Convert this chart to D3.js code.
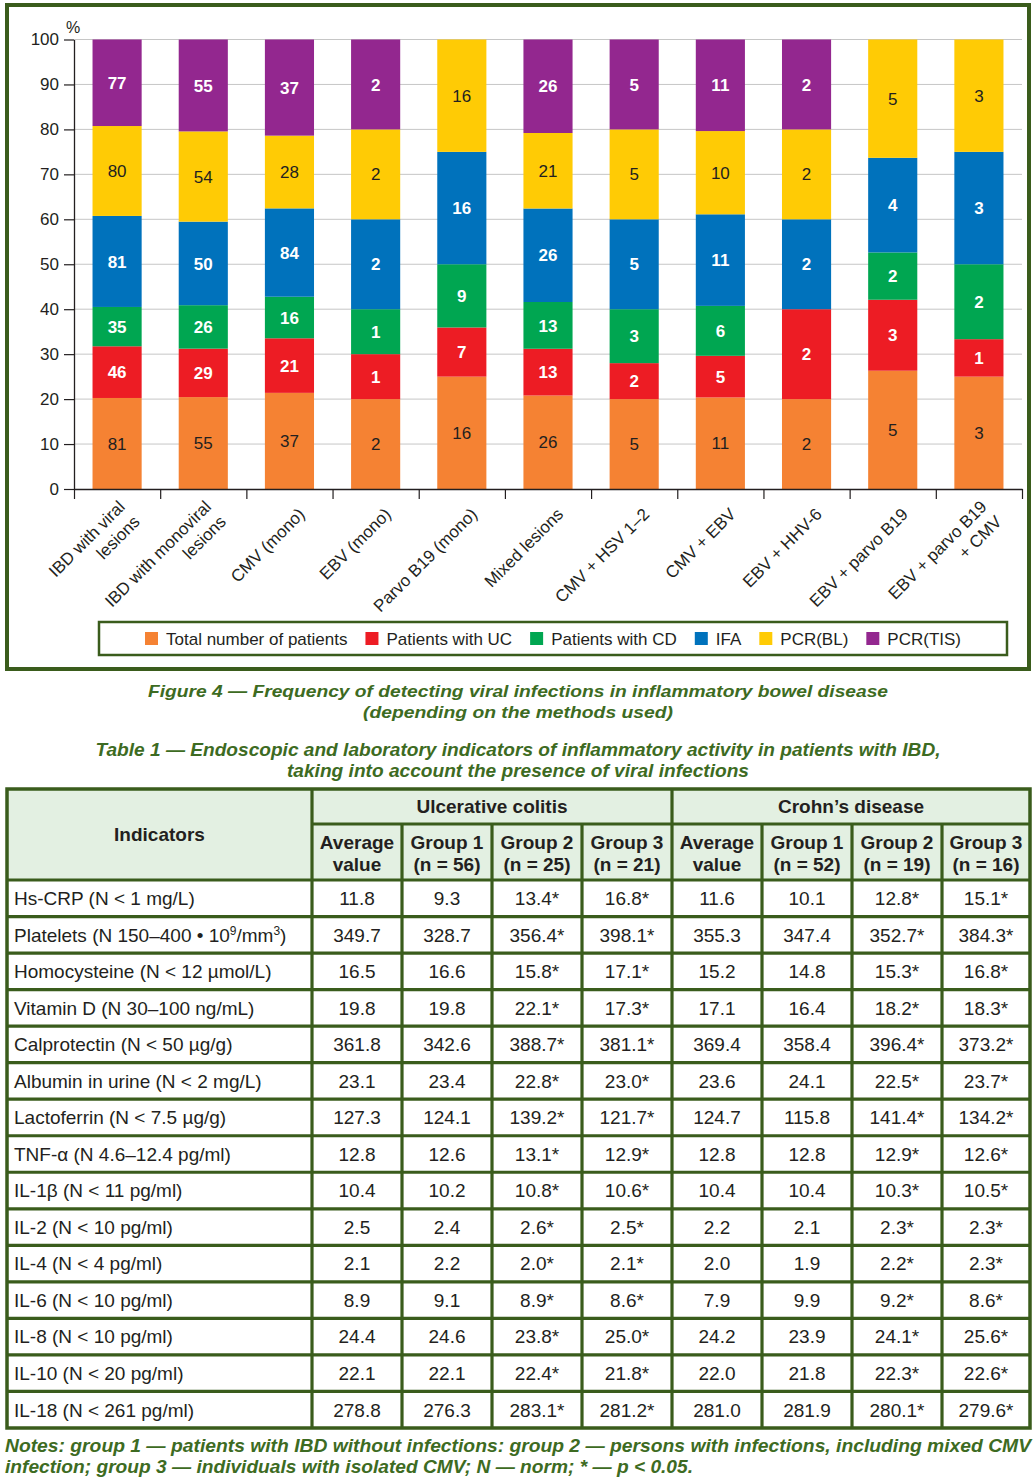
<!DOCTYPE html>
<html>
<head>
<meta charset="utf-8">
<script src="https://cdn.jsdelivr.net/npm/d3@7"></script>
<style>
  body { margin: 0; background: #fff; }
  svg { display: block; font-family: "Liberation Sans", Arial, sans-serif; }
</style>
</head>
<body>
<svg id="page" width="1035" height="1481"></svg>
<script>
// ---- Figure 4 data (patient counts per method, bars are normalised to 100%) ----
const categories = [
  ["IBD with viral", "lesions"],
  ["IBD with monoviral", "lesions"],
  ["CMV (mono)"],
  ["EBV (mono)"],
  ["Parvo B19 (mono)"],
  ["Mixed lesions"],
  ["CMV + HSV 1–2"],
  ["CMV + EBV"],
  ["EBV + HHV-6"],
  ["EBV + parvo B19"],
  ["EBV + parvo B19", "+ CMV"]
];
const totalPatients = [81, 55, 37, 2, 16, 26, 5, 11, 2, 5, 3];
const patientsUC    = [46, 29, 21, 1, 7, 13, 2, 5, 2, 3, 1];
const patientsCD    = [35, 26, 16, 1, 9, 13, 3, 6, 0, 2, 2];
const ifa           = [81, 50, 34, 2, 16, 26, 5, 11, 2, 4, 3];
const pcrBL         = [80, 54, 28, 2, 16, 21, 5, 10, 2, 5, 3];
const pcrTIS        = [77, 55, 37, 2, 0, 26, 5, 11, 2, 0, 0];
// the printed label on CMV (mono) IFA says 84, the segment is drawn for 34
const ifaPrinted    = [81, 50, 84, 2, 16, 26, 5, 11, 2, 4, 3];
const yTicks = [0, 10, 20, 30, 40, 50, 60, 70, 80, 90, 100];

const seriesNames = ["Total number of patients", "Patients with UC", "Patients with CD", "IFA", "PCR(BL)", "PCR(TIS)"];
const seriesValues = [totalPatients, patientsUC, patientsCD, ifa, pcrBL, pcrTIS];
const seriesLabels = [totalPatients, patientsUC, patientsCD, ifaPrinted, pcrBL, pcrTIS];
const seriesColors = ["#f58233", "#ed1c24", "#00a651", "#0072bc", "#ffcb05", "#93278f"];
const labelDark = [true, false, false, false, true, false];

// ---- Table 1 data ----
const indicators = [
  "Hs-CRP (N < 1 mg/L)",
  "Platelets (N 150–400 • 10^9/mm^3)",
  "Homocysteine (N < 12 µmol/L)",
  "Vitamin D (N 30–100 ng/mL)",
  "Calprotectin (N < 50 µg/g)",
  "Albumin in urine (N < 2 mg/L)",
  "Lactoferrin (N < 7.5 µg/g)",
  "TNF-α (N 4.6–12.4 pg/ml)",
  "IL-1β (N < 11 pg/ml)",
  "IL-2 (N < 10 pg/ml)",
  "IL-4 (N < 4 pg/ml)",
  "IL-6 (N < 10 pg/ml)",
  "IL-8 (N < 10 pg/ml)",
  "IL-10 (N < 20 pg/ml)",
  "IL-18 (N < 261 pg/ml)"
];
const ucAverage = [11.8, 349.7, 16.5, 19.8, 361.8, 23.1, 127.3, 12.8, 10.4, 2.5, 2.1, 8.9, 24.4, 22.1, 278.8];
const ucGroup1  = [9.3, 328.7, 16.6, 19.8, 342.6, 23.4, 124.1, 12.6, 10.2, 2.4, 2.2, 9.1, 24.6, 22.1, 276.3];
const ucGroup2  = [13.4, 356.4, 15.8, 22.1, 388.7, 22.8, 139.2, 13.1, 10.8, 2.6, 2.0, 8.9, 23.8, 22.4, 283.1];
const ucGroup3  = [16.8, 398.1, 17.1, 17.3, 381.1, 23.0, 121.7, 12.9, 10.6, 2.5, 2.1, 8.6, 25.0, 21.8, 281.2];
const cdAverage = [11.6, 355.3, 15.2, 17.1, 369.4, 23.6, 124.7, 12.8, 10.4, 2.2, 2.0, 7.9, 24.2, 22.0, 281.0];
const cdGroup1  = [10.1, 347.4, 14.8, 16.4, 358.4, 24.1, 115.8, 12.8, 10.4, 2.1, 1.9, 9.9, 23.9, 21.8, 281.9];
const cdGroup2  = [12.8, 352.7, 15.3, 18.2, 396.4, 22.5, 141.4, 12.9, 10.3, 2.3, 2.2, 9.2, 24.1, 22.3, 280.1];
const cdGroup3  = [15.1, 384.3, 16.8, 18.3, 373.2, 23.7, 134.2, 12.6, 10.5, 2.3, 2.3, 8.6, 25.6, 22.6, 279.6];
const groupHeaders = [
  ["Average", "value"], ["Group 1", "(n = 56)"], ["Group 2", "(n = 25)"], ["Group 3", "(n = 21)"],
  ["Average", "value"], ["Group 1", "(n = 52)"], ["Group 2", "(n = 19)"], ["Group 3", "(n = 16)"]
];
const columns = [ucAverage, ucGroup1, ucGroup2, ucGroup3, cdAverage, cdGroup1, cdGroup2, cdGroup3];
const significant = [false, false, true, true, false, false, true, true];

const frameGreen = "#3a5c1c";
const textGreen = "#3d6b22";
const ink = "#231f20";

const svg = d3.select("#page");
svg.append("rect").attr("width", 1035).attr("height", 1481).attr("fill", "#fff");

// ================= Figure 4 =================
svg.append("rect")
  .attr("x", 7).attr("y", 5).attr("width", 1022).attr("height", 664)
  .attr("fill", "none").attr("stroke", frameGreen).attr("stroke-width", 4);

const x = d3.scaleBand()
  .domain(d3.range(categories.length))
  .range([74, 1022])
  .paddingInner(0.43)
  .paddingOuter(0.215);
const xEdge = d3.scaleLinear().domain([0, categories.length]).range([74, 1022]);
const y = d3.scaleLinear().domain([0, 100]).range([489, 39.5]);

// gridlines
svg.append("g").selectAll("line")
  .data(yTicks.slice(1))
  .join("line")
  .attr("x1", 74).attr("x2", 1022)
  .attr("y1", d => y(d)).attr("y2", d => y(d))
  .attr("stroke", "#c6c6c6").attr("stroke-width", 1);

// stacked percentages
const keys = d3.range(seriesNames.length);
const rows = categories.map((c, i) => {
  const total = d3.sum(seriesValues, s => s[i]);
  const row = {};
  keys.forEach(k => { row[k] = seriesValues[k][i] / total * 100; });
  return row;
});
const stacked = d3.stack().keys(keys)(rows);

const layers = svg.append("g").selectAll("g")
  .data(stacked)
  .join("g")
  .attr("fill", d => seriesColors[d.key]);

layers.selectAll("rect")
  .data(d => d)
  .join("rect")
  .attr("x", (d, i) => x(i))
  .attr("width", x.bandwidth())
  .attr("y", d => y(d[1]))
  .attr("height", d => y(d[0]) - y(d[1]));

layers.selectAll("text")
  .data(d => d.map((v, i) => ({ v, i, key: d.key })).filter(o => seriesValues[o.key][o.i] > 0))
  .join("text")
  .attr("x", o => x(o.i) + x.bandwidth() / 2)
  .attr("y", o => (y(o.v[0]) + y(o.v[1])) / 2)
  .attr("dy", "0.36em")
  .attr("text-anchor", "middle")
  .attr("font-size", 17)
  .attr("font-weight", o => labelDark[o.key] ? "normal" : "bold")
  .attr("fill", o => labelDark[o.key] ? ink : "#fff")
  .text(o => seriesLabels[o.key][o.i]);

// y axis
const yAxis = svg.append("g")
  .attr("transform", "translate(74,0)")
  .call(d3.axisLeft(y).tickValues(yTicks).tickSize(10).tickSizeOuter(0).tickPadding(5));
yAxis.select(".domain").attr("stroke", ink).attr("stroke-width", 1.3);
yAxis.selectAll(".tick line").attr("stroke", ink).attr("stroke-width", 1.2);
yAxis.selectAll(".tick text").attr("font-size", 17).attr("font-family", null).attr("fill", ink);
svg.append("text").attr("x", 66).attr("y", 33).attr("font-size", 16).attr("fill", ink).text("%");

// x axis with ticks on band edges
const xAxis = svg.append("g")
  .attr("transform", "translate(0,489)")
  .call(d3.axisBottom(xEdge).tickValues(d3.range(categories.length + 1)).tickFormat("").tickSize(10).tickSizeOuter(0));
xAxis.select(".domain").attr("stroke", ink).attr("stroke-width", 1.3);
xAxis.selectAll(".tick line").attr("stroke", ink).attr("stroke-width", 1.2);

const xLabels = svg.append("g").selectAll("text")
  .data(categories)
  .join("text")
  .attr("transform", (d, i) => `translate(${x(i) + x.bandwidth() / 2 + 12},511) rotate(-45)`)
  .attr("text-anchor", "end")
  .attr("font-size", 17)
  .attr("fill", ink);
xLabels.each(function (lines) {
  const t = d3.select(this);
  lines.forEach((line, j) => {
    const first = lines.length === 1 ? 0.36 : 0.36 - 0.62;
    t.append("tspan").attr("x", 0).attr("dy", (j === 0 ? first : 1.24) + "em").text(line);
  });
});

// legend
svg.append("rect")
  .attr("x", 99).attr("y", 622).attr("width", 908).attr("height", 33)
  .attr("fill", "none").attr("stroke", frameGreen).attr("stroke-width", 2.5);
const legend = svg.append("g");
let lx = 0;
seriesNames.forEach((name, k) => {
  const item = legend.append("g").attr("transform", `translate(${lx},0)`);
  item.append("rect").attr("x", 0).attr("y", 632).attr("width", 13).attr("height", 13).attr("fill", seriesColors[k]);
  const txt = item.append("text").attr("x", 21).attr("y", 645).attr("font-size", 17).attr("fill", ink).text(name);
  lx += 21 + txt.node().getComputedTextLength() + 18;
});
const legendWidth = lx - 18;
legend.attr("transform", `translate(${553 - legendWidth / 2},0)`);

// figure caption
const figCaption = [
  ["Figure 4 — Frequency of detecting viral infections in inflammatory bowel disease", 697, 740],
  ["(depending on the methods used)", 718, 310]
];
svg.append("g").selectAll("text")
  .data(figCaption)
  .join("text")
  .attr("x", 518).attr("y", d => d[1])
  .attr("text-anchor", "middle")
  .attr("font-size", 17).attr("font-weight", "bold").attr("font-style", "italic")
  .attr("fill", textGreen)
  .attr("textLength", d => d[2]).attr("lengthAdjust", "spacingAndGlyphs")
  .text(d => d[0]);

// ================= Table 1 =================
const tabCaption = [
  ["Table 1 — Endoscopic and laboratory indicators of inflammatory activity in patients with IBD,", 756, 845],
  ["taking into account the presence of viral infections", 777, 462]
];
svg.append("g").selectAll("text")
  .data(tabCaption)
  .join("text")
  .attr("x", 518).attr("y", d => d[1])
  .attr("text-anchor", "middle")
  .attr("font-size", 18).attr("font-weight", "bold").attr("font-style", "italic")
  .attr("fill", textGreen)
  .attr("textLength", d => d[2]).attr("lengthAdjust", "spacingAndGlyphs")
  .text(d => d[0]);

const colEdges = [7, 312, 402, 492, 582, 672, 762, 852, 942, 1030];
const tableTop = 789, head1 = 824, head2 = 880, tableBottom = 1428;
const rowScale = d3.scaleBand().domain(d3.range(indicators.length)).range([head2, tableBottom]);

const table = svg.append("g");
table.append("rect")
  .attr("x", colEdges[0]).attr("y", tableTop)
  .attr("width", colEdges[9] - colEdges[0]).attr("height", head2 - tableTop)
  .attr("fill", "#e3f0e2");

// header texts
table.append("text")
  .attr("x", (colEdges[0] + colEdges[1]) / 2).attr("y", (tableTop + head2) / 2).attr("dy", "0.36em")
  .attr("text-anchor", "middle").attr("font-size", 19).attr("font-weight", "bold").attr("fill", ink)
  .text("Indicators");
[["Ulcerative colitis", 1, 5], ["Crohn’s disease", 5, 9]].forEach(([label, a, b]) => {
  table.append("text")
    .attr("x", (colEdges[a] + colEdges[b]) / 2).attr("y", (tableTop + head1) / 2).attr("dy", "0.36em")
    .attr("text-anchor", "middle").attr("font-size", 19).attr("font-weight", "bold").attr("fill", ink)
    .text(label);
});
groupHeaders.forEach((lines, c) => {
  const t = table.append("text")
    .attr("x", (colEdges[c + 1] + colEdges[c + 2]) / 2)
    .attr("y", (head1 + head2) / 2 + 2)
    .attr("text-anchor", "middle").attr("font-size", 19).attr("font-weight", "bold").attr("fill", ink);
  lines.forEach((line, j) => {
    t.append("tspan").attr("x", (colEdges[c + 1] + colEdges[c + 2]) / 2)
      .attr("dy", j === 0 ? "-0.24em" : "1.15em").text(line);
  });
});

// body rows
const fmt = d3.format(".1f");
indicators.forEach((name, r) => {
  const baseline = rowScale(r) + rowScale.bandwidth() / 2 + 6.8;
  const t = table.append("text")
    .attr("x", 14).attr("y", baseline)
    .attr("font-size", 19).attr("fill", ink);
  // "^" marks a superscript digit
  let raised = false;
  name.split(/(\^\d)/).filter(p => p).forEach(part => {
    if (part.startsWith("^")) {
      t.append("tspan").attr("font-size", 12).attr("dy", raised ? null : -7).text(part.slice(1));
      raised = true;
    } else {
      t.append("tspan").attr("dy", raised ? 7 : null).text(part);
      raised = false;
    }
  });
  columns.forEach((col, c) => {
    table.append("text")
      .attr("x", (colEdges[c + 1] + colEdges[c + 2]) / 2).attr("y", baseline)
      .attr("text-anchor", "middle").attr("font-size", 19).attr("fill", ink)
      .text(fmt(col[r]) + (significant[c] ? "*" : ""));
  });
});

// grid lines
const grid = table.append("g").attr("stroke", frameGreen).attr("stroke-width", 3.2).attr("fill", "none");
grid.append("line").attr("x1", colEdges[1]).attr("x2", colEdges[9]).attr("y1", head1).attr("y2", head1);
d3.range(indicators.length).forEach(r => {
  grid.append("line").attr("x1", colEdges[0]).attr("x2", colEdges[9])
    .attr("y1", rowScale(r)).attr("y2", rowScale(r));
});
colEdges.slice(1, 9).forEach((cx, c) => {
  const full = c === 0 || c === 4;
  grid.append("line").attr("x1", cx).attr("x2", cx)
    .attr("y1", full ? tableTop : head1).attr("y2", tableBottom);
});
grid.append("rect")
  .attr("x", colEdges[0]).attr("y", tableTop)
  .attr("width", colEdges[9] - colEdges[0]).attr("height", tableBottom - tableTop)
  .attr("stroke-width", 3.5);

// notes
const notes = [
  ["Notes: group 1 — patients with IBD without infections: group 2 — persons with infections, including mixed CMV", 1452, 1026],
  ["infection; group 3 — individuals with isolated CMV; N — norm; * — p < 0.05.", 1473, 688]
];
svg.append("g").selectAll("text")
  .data(notes)
  .join("text")
  .attr("x", 5).attr("y", d => d[1])
  .attr("font-size", 18).attr("font-weight", "bold").attr("font-style", "italic")
  .attr("fill", textGreen)
  .attr("textLength", d => d[2]).attr("lengthAdjust", "spacingAndGlyphs")
  .text(d => d[0]);
</script>
</body>
</html>
